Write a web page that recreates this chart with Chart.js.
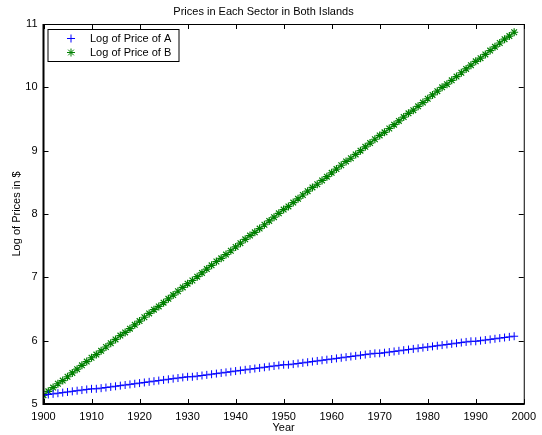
<!DOCTYPE html>
<html>
<head>
<meta charset="utf-8">
<script src="https://cdn.jsdelivr.net/npm/chart.js@4/dist/chart.umd.min.js"></script>
<style>
  html, body { margin: 0; padding: 0; background: #fff; }
  #wrap { width: 542px; height: 435px; }
</style>
</head>
<body>
<div id="wrap"><canvas id="chart" width="542" height="435"></canvas></div>
<script>
// Chart data
const chartTitle = 'Prices in Each Sector in Both Islands';
const xTitle = 'Year';
const yTitle = 'Log of Prices in $';
const seriesNames = ['Log of Price of A', 'Log of Price of B'];

const years = [
  1900, 1901, 1902, 1903, 1904, 1905, 1906, 1907, 1908, 1909,
  1910, 1911, 1912, 1913, 1914, 1915, 1916, 1917, 1918, 1919,
  1920, 1921, 1922, 1923, 1924, 1925, 1926, 1927, 1928, 1929,
  1930, 1931, 1932, 1933, 1934, 1935, 1936, 1937, 1938, 1939,
  1940, 1941, 1942, 1943, 1944, 1945, 1946, 1947, 1948, 1949,
  1950, 1951, 1952, 1953, 1954, 1955, 1956, 1957, 1958, 1959,
  1960, 1961, 1962, 1963, 1964, 1965, 1966, 1967, 1968, 1969,
  1970, 1971, 1972, 1973, 1974, 1975, 1976, 1977, 1978, 1979,
  1980, 1981, 1982, 1983, 1984, 1985, 1986, 1987, 1988, 1989,
  1990, 1991, 1992, 1993, 1994, 1995, 1996, 1997, 1998
];

const priceA = [
  5.14, 5.15, 5.16, 5.17, 5.18, 5.19, 5.20, 5.21, 5.22, 5.23,
  5.24, 5.24, 5.25, 5.26, 5.27, 5.28, 5.29, 5.30, 5.31, 5.32,
  5.33, 5.34, 5.35, 5.36, 5.37, 5.38, 5.39, 5.40, 5.41, 5.42,
  5.43, 5.43, 5.44, 5.45, 5.46, 5.47, 5.48, 5.49, 5.50, 5.51,
  5.52, 5.53, 5.54, 5.55, 5.56, 5.57, 5.58, 5.59, 5.60, 5.61,
  5.62, 5.62, 5.63, 5.64, 5.65, 5.66, 5.67, 5.68, 5.69, 5.70,
  5.71, 5.72, 5.73, 5.74, 5.75, 5.76, 5.77, 5.78, 5.79, 5.80,
  5.80, 5.81, 5.82, 5.83, 5.84, 5.85, 5.86, 5.87, 5.88, 5.89,
  5.90, 5.91, 5.92, 5.93, 5.94, 5.95, 5.96, 5.97, 5.98, 5.99,
  5.99, 6.00, 6.01, 6.02, 6.03, 6.04, 6.05, 6.06, 6.07
];

const priceB = [
  5.14, 5.20, 5.26, 5.32, 5.37, 5.43, 5.49, 5.55, 5.61, 5.67,
  5.73, 5.78, 5.84, 5.90, 5.96, 6.02, 6.08, 6.13, 6.19, 6.25,
  6.31, 6.37, 6.43, 6.49, 6.54, 6.60, 6.66, 6.72, 6.78, 6.84,
  6.90, 6.95, 7.01, 7.07, 7.13, 7.19, 7.25, 7.30, 7.36, 7.42,
  7.48, 7.54, 7.60, 7.66, 7.71, 7.77, 7.83, 7.89, 7.95, 8.01,
  8.07, 8.12, 8.18, 8.24, 8.30, 8.36, 8.42, 8.47, 8.53, 8.59,
  8.65, 8.71, 8.77, 8.83, 8.88, 8.94, 9.00, 9.06, 9.12, 9.18,
  9.24, 9.29, 9.35, 9.41, 9.47, 9.53, 9.59, 9.64, 9.70, 9.76,
  9.82, 9.88, 9.94, 10.00, 10.05, 10.11, 10.17, 10.23, 10.29, 10.35,
  10.41, 10.46, 10.52, 10.58, 10.64, 10.70, 10.76, 10.81, 10.87
];

const xTicks = [1900, 1910, 1920, 1930, 1940, 1950, 1960, 1970, 1980, 1990, 2000];
const yTicks = [5, 6, 7, 8, 9, 10, 11];

const FONT = 'Liberation Sans, Arial, Helvetica, sans-serif';

function toPoints(ys) {
  return years.map((yr, i) => ({ x: yr, y: ys[i] }));
}

/**
 * MATLAB-style box with inward ticks plus a boxed legend in the top-left corner
 */
const matlabAxes = {
  id: 'matlabAxes',
  afterDraw(chart) {
    const { ctx, chartArea: a, scales } = chart;
    const len = 5;
    ctx.save();
    ctx.strokeStyle = '#000';

    // inward ticks on all four sides
    ctx.lineWidth = 1;
    ctx.beginPath();
    xTicks.forEach(v => {
      const px = Math.round(scales.x.getPixelForValue(v)) + 0.5;
      ctx.moveTo(px, a.bottom); ctx.lineTo(px, a.bottom - len);
      ctx.moveTo(px, a.top); ctx.lineTo(px, a.top + len);
    });
    yTicks.forEach(v => {
      const py = Math.round(scales.y.getPixelForValue(v)) + 0.5;
      ctx.moveTo(a.left, py); ctx.lineTo(a.left + len, py);
      ctx.moveTo(a.right, py); ctx.lineTo(a.right - len, py);
    });
    ctx.stroke();

    // box: top/right thin, left/bottom heavier
    ctx.beginPath();
    ctx.moveTo(a.left, a.top + 0.5); ctx.lineTo(a.right + 0.5, a.top + 0.5);
    ctx.lineTo(a.right + 0.5, a.bottom);
    ctx.stroke();
    ctx.lineWidth = 2;
    ctx.beginPath();
    ctx.moveTo(a.left, a.top); ctx.lineTo(a.left, a.bottom);
    ctx.lineTo(a.right + 1, a.bottom);
    ctx.stroke();

    // legend
    const lx = a.left + 4.5, ly = a.top + 5.5, lw = 131, lh = 32;
    ctx.fillStyle = '#fff';
    ctx.fillRect(lx, ly, lw, lh);
    ctx.lineWidth = 1;
    ctx.strokeRect(lx, ly, lw, lh);
    ctx.font = '11px ' + FONT;
    ctx.textBaseline = 'middle';
    ctx.textAlign = 'left';
    chart.data.datasets.forEach((ds, i) => {
      const cy = ly + 9 + i * 14;
      ctx.strokeStyle = ds.borderColor;
      ctx.fillStyle = ds.borderColor;
      ctx.lineWidth = 1;
      Chart.helpers.drawPoint(ctx, {
        pointStyle: ds.pointStyle, radius: ds.pointRadius, rotation: 0, borderWidth: 1
      }, lx + 23, cy);
      ctx.fillStyle = '#000';
      ctx.fillText(ds.label, lx + 42, cy + 0.5);
    });
    ctx.restore();
  }
};

new Chart(document.getElementById('chart'), {
  type: 'scatter',
  data: {
    datasets: [
      {
        label: seriesNames[0],
        data: toPoints(priceA),
        pointStyle: 'cross',
        pointRadius: 4,
        borderColor: '#0000ff',
        backgroundColor: '#0000ff',
        pointBorderWidth: 1,
        showLine: false,
      },
      {
        label: seriesNames[1],
        data: toPoints(priceB),
        pointStyle: 'star',
        pointRadius: 4,
        borderColor: '#008000',
        backgroundColor: '#008000',
        pointBorderWidth: 1.2,
        showLine: false,
      },
    ],
  },
  options: {
    responsive: false,
    animation: false,
    layout: { padding: { left: 0, right: 15, top: 0, bottom: 0 } },
    plugins: {
      legend: { display: false },
      tooltip: { enabled: false },
      title: {
        display: true,
        text: chartTitle,
        color: '#000',
        font: { family: FONT, size: 11, weight: 'normal', lineHeight: 1.2 },
        padding: { top: 5, bottom: 5.8 },
      },
    },
    scales: {
      x: {
        type: 'linear',
        min: 1900,
        max: 2000,
        afterFit(scale) { scale.height = 31; },
        afterBuildTicks(scale) { scale.ticks = xTicks.map(v => ({ value: v })); },
        grid: { display: false, drawTicks: false },
        border: { display: false },
        ticks: {
          color: '#000',
          padding: 6,
          maxRotation: 0,
          autoSkip: false,
          font: { family: FONT, size: 11 },
          callback: v => String(v),
        },
        title: {
          display: true,
          text: xTitle,
          color: '#000',
          font: { family: FONT, size: 11, lineHeight: 1.2 },
          padding: { top: 0, bottom: 0 },
        },
      },
      y: {
        min: 5,
        max: 11,
        afterFit(scale) { scale.width = 43.5; },
        afterBuildTicks(scale) { scale.ticks = yTicks.map(v => ({ value: v })); },
        grid: { display: false, drawTicks: false },
        border: { display: false },
        ticks: {
          color: '#000',
          padding: 6,
          autoSkip: false,
          font: { family: FONT, size: 11 },
          callback: v => String(v),
        },
        title: {
          display: true,
          text: yTitle,
          color: '#000',
          font: { family: FONT, size: 11, lineHeight: 1.2 },
          padding: { top: 10, bottom: 0 },
        },
      },
    },
  },
  plugins: [matlabAxes],
});
</script>
</body>
</html>
